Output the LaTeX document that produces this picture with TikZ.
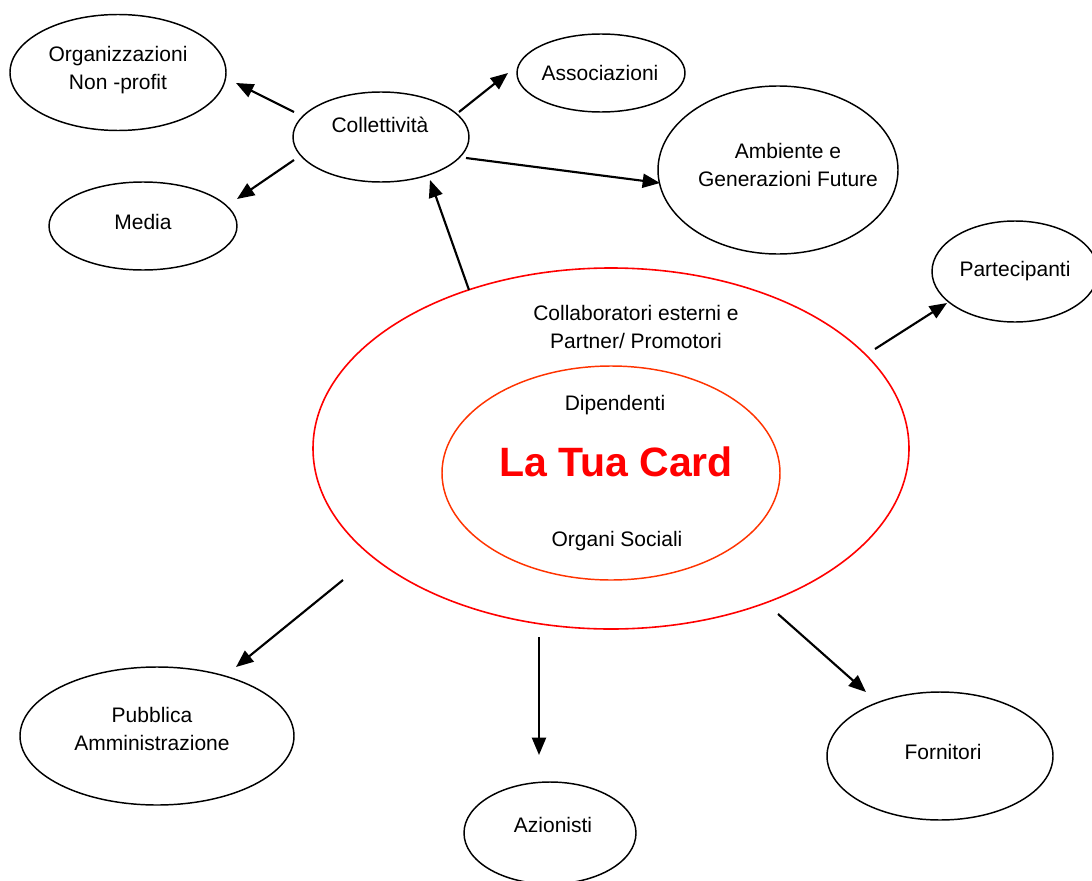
\documentclass[tikz,border=0pt]{standalone}
\usepackage{fontspec}
\setmainfont{Liberation Sans}
\usetikzlibrary{shapes.geometric,arrows.meta}
\definecolor{ringred}{HTML}{FF0000}
\definecolor{ringorange}{HTML}{FF3300}
\tikzset{
  oval/.style={ellipse, draw=black, line width=1.1pt, inner sep=0pt, outer sep=0pt},
  bigoval/.style={ellipse, draw=ringred, line width=1.2pt, inner sep=0pt, outer sep=0pt},
  inneroval/.style={ellipse, draw=ringorange, line width=1.1pt, inner sep=0pt, outer sep=0pt},
  lbl/.style={inner sep=0pt, align=center, font=\fontsize{15.75}{20.5}\selectfont},
  titlelbl/.style={inner sep=0pt, text=ringred, font=\fontsize{30.75}{36}\selectfont\bfseries},
  arr/.style={line width=1.6pt, -{Triangle[length=13pt,width=10.5pt]}}
}
\begin{document}
\begin{tikzpicture}[x=0.75pt,y=-0.75pt]
\useasboundingbox (0,0) rectangle (1092,881);
\begin{scope}
\clip (0,0) rectangle (1092,881);
% ellipses
\node[oval, minimum width=162pt, minimum height=87pt] (org) at (118,72.5) {};
\node[oval, minimum width=132pt, minimum height=67.5pt] (coll) at (381,137) {};
\node[oval, minimum width=141pt, minimum height=66pt] (media) at (143,226) {};
\node[oval, minimum width=126pt, minimum height=58.5pt] (assoc) at (601,73) {};
\node[oval, minimum width=180pt, minimum height=126pt] (amb) at (778,170) {};
\node[oval, minimum width=124.5pt, minimum height=75.75pt] (part) at (1015,271.5) {};
\node[bigoval, minimum width=447pt, minimum height=270.75pt] (big) at (611,448.5) {};
\node[inneroval, minimum width=253.5pt, minimum height=160.5pt] (inner) at (611,473) {};
\node[oval, minimum width=205.5pt, minimum height=103.5pt] (pub) at (157,736) {};
\node[oval, minimum width=129pt, minimum height=76.5pt] (azi) at (550,833) {};
\node[oval, minimum width=169.5pt, minimum height=96pt] (forn) at (940,756) {};
\end{scope}
% texts
\node[lbl] (orgT) at (118,70) {Organizzazioni\\Non -profit};
\node[lbl] (collT) at (380,125) {Collettività};
\node[lbl] (mediaT) at (143,222) {Media};
\node[lbl] (assocT) at (600,73) {Associazioni};
\node[lbl] (ambT) at (788,165) {Ambiente e\\Generazioni Future};
\node[lbl] (partT) at (1015,271) {Partecipanti};
\node[lbl] (collabT) at (636,327) {Collaboratori esterni e\\Partner/ Promotori};
\node[lbl] (dipT) at (615,405) {Dipendenti};
\node[titlelbl] (cardT) at (616,462) {La Tua Card};
\node[lbl] (orgsT) at (617,541) {Organi Sociali};
\node[lbl] (pubT) at (152,729) {Pubblica\\Amministrazione};
\node[lbl] (aziT) at (553,825) {Azionisti};
\node[lbl] (fornT) at (943,752) {Fornitori};
% arrow end points
\coordinate (c1s) at (294,112); \coordinate (c1e) at (236,83);
\coordinate (c2s) at (294,160); \coordinate (c2e) at (237,199);
\coordinate (c3s) at (459,112); \coordinate (c3e) at (508,73);
\coordinate (c4s) at (466,158); \coordinate (c4e) at (660,183);
\coordinate (b1s) at (469,290); \coordinate (b1e) at (430,180);
\coordinate (b2s) at (875,349); \coordinate (b2e) at (947,303);
\coordinate (b3s) at (343,580); \coordinate (b3e) at (236,667);
\coordinate (b4s) at (539,637); \coordinate (b4e) at (539,755);
\coordinate (b5s) at (778,614); \coordinate (b5e) at (866,692);
% connectors
\draw[arr] (c1s) -- (c1e);
\draw[arr] (c2s) -- (c2e);
\draw[arr] (c3s) -- (c3e);
\draw[arr] (c4s) -- (c4e);
\draw[arr] (b1s) -- (b1e);
\draw[arr] (b2s) -- (b2e);
\draw[arr] (b3s) -- (b3e);
\draw[arr] (b4s) -- (b4e);
\draw[arr] (b5s) -- (b5e);
\end{tikzpicture}
\end{document}
